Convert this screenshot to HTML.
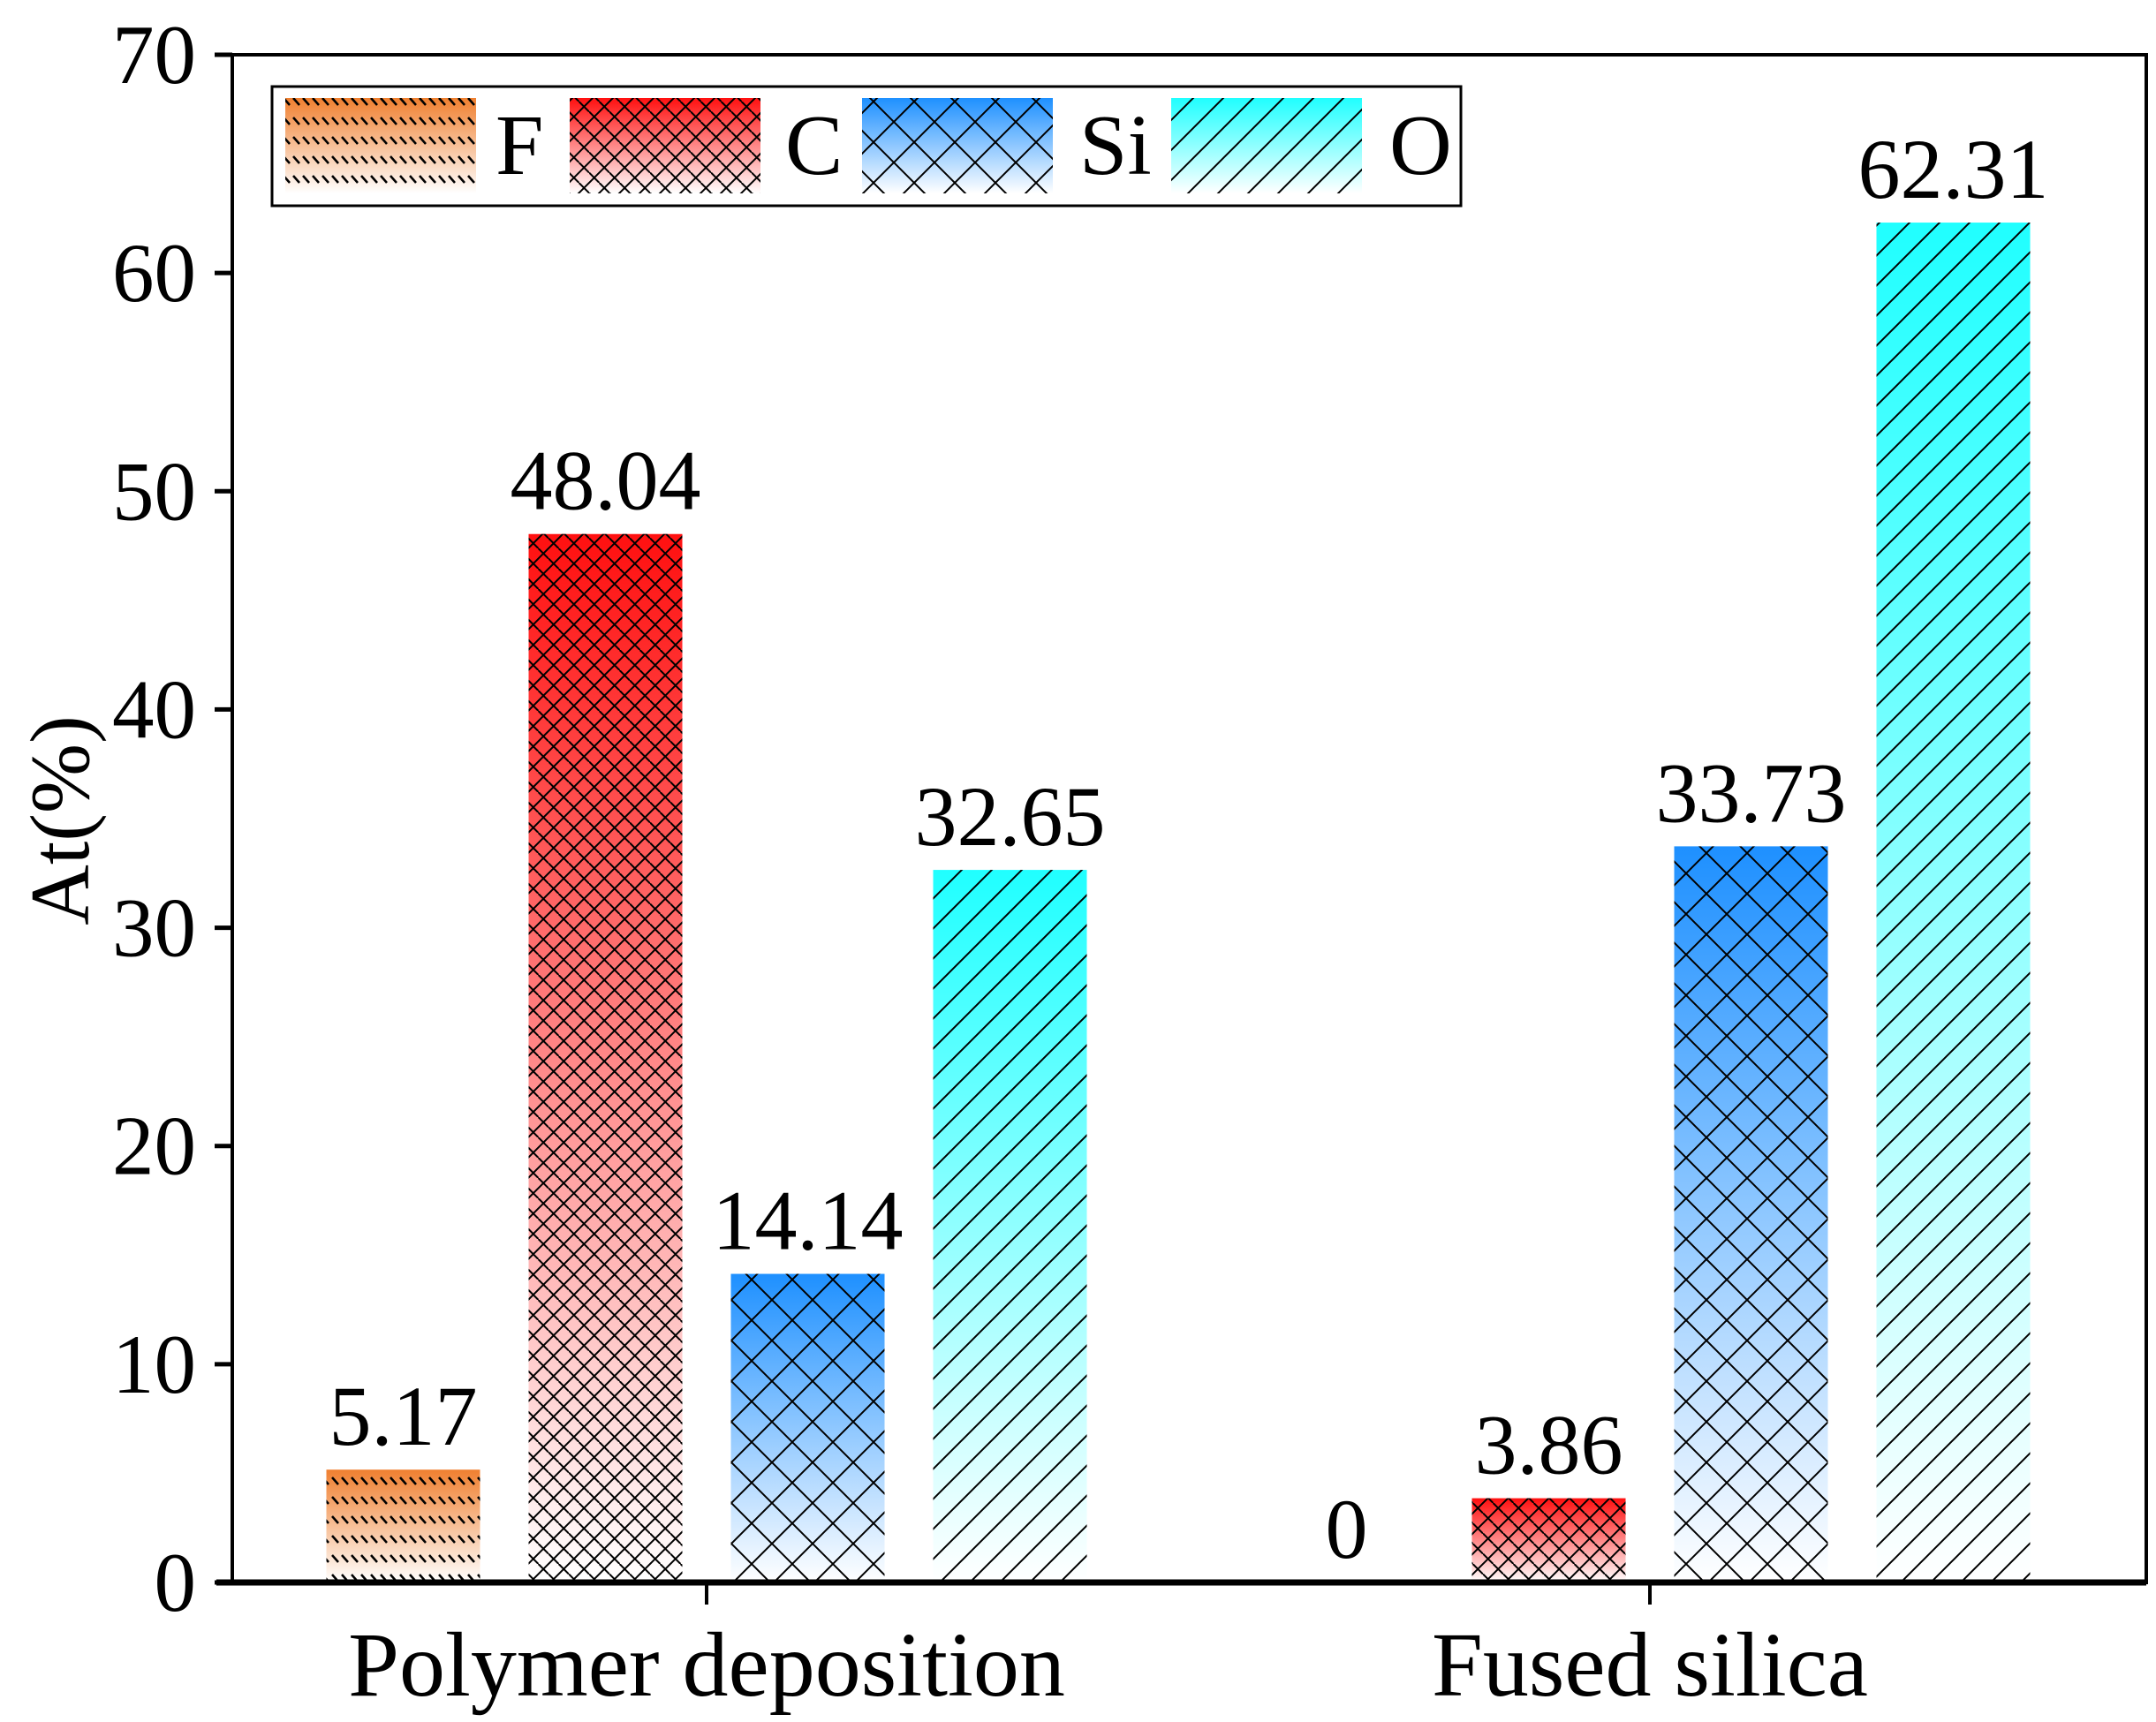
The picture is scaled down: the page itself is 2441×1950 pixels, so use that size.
<!DOCTYPE html>
<html><head><meta charset="utf-8"><style>
html,body{margin:0;padding:0;background:#fff}
svg text{font-family:"Liberation Serif",serif;fill:#000}
</style></head><body>
<svg id="chart" width="2441" height="1945" viewBox="0 0 2441 1945" xmlns="http://www.w3.org/2000/svg">
<defs>
<linearGradient id="gF" x1="0" y1="0" x2="0" y2="1"><stop offset="0" stop-color="#f08030"/><stop offset="1" stop-color="#fff"/></linearGradient>
<linearGradient id="gC" x1="0" y1="0" x2="0" y2="1"><stop offset="0" stop-color="#ff1010"/><stop offset="1" stop-color="#fff"/></linearGradient>
<linearGradient id="gSi" x1="0" y1="0" x2="0" y2="1"><stop offset="0" stop-color="#1e90ff"/><stop offset="1" stop-color="#fff"/></linearGradient>
<linearGradient id="gO" x1="0" y1="0" x2="0" y2="1"><stop offset="0" stop-color="#20ffff"/><stop offset="1" stop-color="#fff"/></linearGradient>
<pattern id="pF" patternUnits="userSpaceOnUse" width="11" height="22"><path d="M2,1 L9,9" stroke="#000" stroke-width="2.5"/></pattern>
<pattern id="pC" patternUnits="userSpaceOnUse" width="23" height="23"><path d="M0,23 L23,0 M-5,5 L5,-5 M18,28 L28,18 M0,11.5 L11.5,23 M11.5,0 L23,11.5" stroke="#000" stroke-width="2"/></pattern>
<pattern id="pSi" patternUnits="userSpaceOnUse" width="46" height="46"><path d="M0,46 L46,0 M0,0 L46,46" stroke="#000" stroke-width="2"/></pattern>
<pattern id="pO" patternUnits="userSpaceOnUse" width="34" height="34"><path d="M0,34 L34,0 M-5,5 L5,-5 M29,39 L39,29" stroke="#000" stroke-width="2"/></pattern>
</defs>
<g id="plot"></g>
</svg>
<script>
const categories = ["Polymer deposition", "Fused silica"];
const elements = ["F", "C", "Si", "O"];
const valuesF = [5.17, 0];
const valuesC = [48.04, 3.86];
const valuesSi = [14.14, 33.73];
const valuesO = [32.65, 62.31];
const labelsF = ["5.17", "0"];
const labelsC = ["48.04", "3.86"];
const labelsSi = ["14.14", "33.73"];
const labelsO = ["32.65", "62.31"];
const yTicks = [0, 10, 20, 30, 40, 50, 60, 70];

const NS = "http://www.w3.org/2000/svg";
const L = 263, R = 2430, T = 62, B = 1792;
const yMin = 0, yMax = 70;
function y(v){ return B - (v - yMin) / (yMax - yMin) * (B - T); }
const groupCenters = [800, 1868];
const pitch = 229, barW = 174;
function x(gi, si){ return groupCenters[gi] + (si - 1.5) * pitch - barW / 2; }
const g = document.getElementById('plot');
function mk(tag, attrs, parent){ const e = document.createElementNS(NS, tag); for (const k in attrs) e.setAttribute(k, attrs[k]); (parent||g).appendChild(e); return e; }

const series = [valuesF, valuesC, valuesSi, valuesO];
const labels = [labelsF, labelsC, labelsSi, labelsO];
const ids = ["F","C","Si","O"];
series.forEach((vals, si) => {
  vals.forEach((v, gi) => {
    const bx = x(gi, si), top = y(v), h = y(0) - y(v);
    if (h > 0) {
      const r1 = mk('rect', {x: bx, y: top, width: barW, height: h, fill: 'url(#g' + ids[si] + ')'});
      
      
      const r2 = mk('rect', {x: bx, y: top, width: barW, height: h, fill: 'url(#p' + ids[si] + ')'});
      
      
    }
    const t = mk('text', {x: bx + barW / 2, y: top - 28, 'text-anchor': 'middle', 'font-size': 96});
    t.textContent = labels[si][gi];
    
    
  });
});

const frame = mk('rect', {x: L, y: T, width: R - L, height: B - T, fill: 'none', stroke: '#000', 'stroke-width': 4});


const xa = mk('line', {x1: L - 18, y1: B, x2: R, y2: B, stroke: '#000', 'stroke-width': 7});



yTicks.forEach(v => {
  const tk = mk('line', {x1: L - 20, y1: y(v), x2: L, y2: y(v), stroke: '#000', 'stroke-width': 5});
  
  
  const tl = mk('text', {x: 222, y: y(v) + 32, 'text-anchor': 'end', 'font-size': 95});
  tl.textContent = String(v);
  
  
});
categories.forEach((c, gi) => {
  const tk = mk('line', {x1: groupCenters[gi], y1: B, x2: groupCenters[gi], y2: B + 25, stroke: '#000', 'stroke-width': 4});
  
  
  const tl = mk('text', {x: groupCenters[gi], y: 1920, 'text-anchor': 'middle', 'font-size': 104});
  tl.textContent = c;
  
  
});
const yt = mk('text', {x: 0, y: 0, 'text-anchor': 'middle', 'font-size': 95, transform: 'translate(100,929) rotate(-90)'});
yt.textContent = 'At(%)';



const lg = mk('g', {});


const lb = mk('rect', {x: 308, y: 98, width: 1346, height: 135, fill: '#fff', stroke: '#000', 'stroke-width': 3}, lg);


const swX = [323, 645, 976, 1326];
const txX = [561, 889, 1222, 1573];
elements.forEach((el, i) => {
  const e = mk('g', {}, lg);
  
  
  mk('rect', {x: swX[i], y: 111, width: 216, height: 108, fill: 'url(#g' + el + ')'}, e);
  mk('rect', {x: swX[i], y: 111, width: 216, height: 108, fill: 'url(#p' + el + ')'}, e);
  const t = mk('text', {x: txX[i], y: 197, 'font-size': 98}, e);
  t.textContent = el;
});
</script>
</body></html>
